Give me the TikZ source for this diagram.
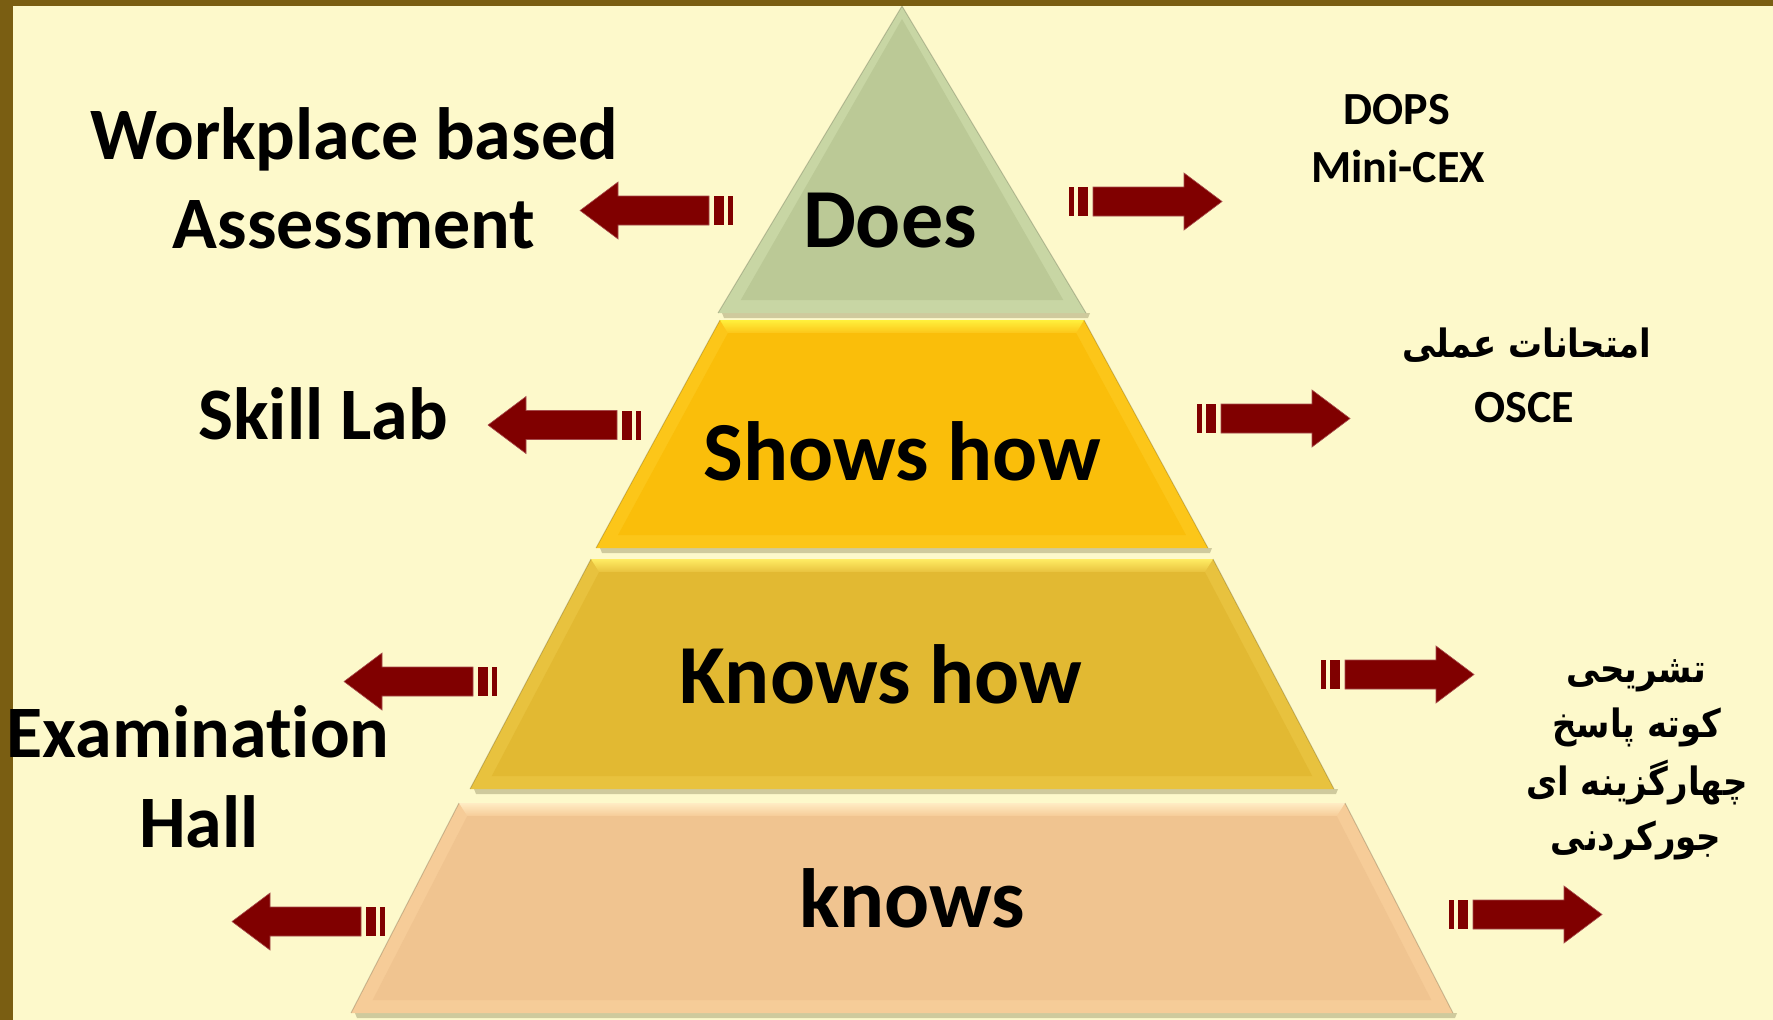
\documentclass[tikz,border=0pt]{standalone}
\usepackage{fontspec}
\setmainfont{Carlito}[Ligatures=NoCommon]
\newfontfamily\arabicfont[Script=Arabic,FakeStretch=0.87]{DejaVu Sans}
\TeXXeTstate=1
\definecolor{bgcol}{RGB}{253,249,203}
\definecolor{framecol}{RGB}{122,94,18}
\definecolor{arrowcol}{RGB}{128,0,0}
\definecolor{doesbase}{RGB}{187,201,150}
\definecolor{doesfacet}{RGB}{200,214,164}
\definecolor{doestop}{RGB}{210,222,175}
\definecolor{showsbase}{RGB}{250,190,10}
\definecolor{showsfacet}{RGB}{252,198,25}
\definecolor{showstop}{RGB}{255,240,60}
\definecolor{khbase}{RGB}{226,185,50}
\definecolor{khfacet}{RGB}{232,194,62}
\definecolor{khtop}{RGB}{255,236,100}
\definecolor{kbase}{RGB}{240,196,144}
\definecolor{kfacet}{RGB}{246,204,152}
\definecolor{ktop}{RGB}{255,236,196}
\definecolor{shadowcol}{RGB}{170,165,120}
\tikzset{
  lefttext/.style={anchor=base, inner sep=0pt, font=\bfseries\fontsize{74}{88}\selectfont},
  layertext/.style={anchor=base, inner sep=0pt, font=\bfseries\fontsize{84}{100}\selectfont},
  righttext/.style={anchor=base, inner sep=0pt, font=\bfseries\fontsize{46}{56}\selectfont},
  fatext/.style={anchor=base, inner sep=0pt, font=\arabicfont\bfseries\fontsize{39}{50}\selectfont},
  arrowfill/.style={fill=arrowcol, draw=arrowcol!70!white, line width=0.6pt}
}
% layer: #1 top y, #2 bottom y, #3 top half width, #4 bottom half width, #5 base, #6 facet, #7 top colour
\newcommand\pyrlayer[7]{%
  \pgfmathsetmacro\pyS{(#4-#3)/(#2-#1)}%
  \pgfmathsetmacro\pyIns{13}%
  \pgfmathsetmacro\pyITy{#1+\pyIns}%
  \pgfmathsetmacro\pyIBy{#2-\pyIns}%
  \pgfmathsetmacro\pyITw{max(0,#3+\pyS*\pyIns-\pyIns*1.15)}%
  \pgfmathsetmacro\pyIBw{#4-\pyS*\pyIns-\pyIns*1.15}%
  \fill[shadowcol, opacity=0.55] (902-#4+4,#2) -- (902+#4+4,#2) -- (902+#4+2,#2+5) -- (902-#4+6,#2+5) -- cycle;
  \fill[#6] (902-#3,#1) -- (902+#3,#1) -- (902+#4,#2) -- (902-#4,#2) -- cycle;
  \shade[top color=#7, bottom color=#6] (902-#3,#1) -- (902+#3,#1) -- (902+\pyITw,\pyITy) -- (902-\pyITw,\pyITy) -- cycle;
  \fill[#5] (902-\pyITw,\pyITy) -- (902+\pyITw,\pyITy) -- (902+\pyIBw,\pyIBy) -- (902-\pyIBw,\pyIBy) -- cycle;
  \draw[black, opacity=0.18, line width=1pt] (902-#3,#1) -- (902-#4,#2) (902+#3,#1) -- (902+#4,#2);
}
% right arrow: tail x, centre y
\newcommand\rarrow[2]{%
  \fill[arrowcol] (#1,#2-14.5) rectangle (#1+5,#2+14.5);
  \fill[arrowcol] (#1+9,#2-14.5) rectangle (#1+19,#2+14.5);
  \path[arrowfill] (#1+24,#2-14.5) -- (#1+115,#2-14.5) -- (#1+115,#2-28.5) -- (#1+153,#2) -- (#1+115,#2+28.5) -- (#1+115,#2+14.5) -- (#1+24,#2+14.5) -- cycle;
}
% left arrow: tail x (right end), centre y
\newcommand\larrow[2]{%
  \fill[arrowcol] (#1,#2-14.5) rectangle (#1-5,#2+14.5);
  \fill[arrowcol] (#1-9,#2-14.5) rectangle (#1-19,#2+14.5);
  \path[arrowfill] (#1-24,#2-14.5) -- (#1-115,#2-14.5) -- (#1-115,#2-28.5) -- (#1-153,#2) -- (#1-115,#2+28.5) -- (#1-115,#2+14.5) -- (#1-24,#2+14.5) -- cycle;
}
\begin{document}
\begin{tikzpicture}[x=1pt,y=-1pt]
\useasboundingbox (0,0) rectangle (1773,1020);
\fill[bgcol] (0,0) rectangle (1773,1020);
\fill[framecol] (0,0) rectangle (1773,6);
\fill[framecol] (0,0) rectangle (13,1020);

% pyramid
\pyrlayer{6}{313}{0}{184}{doesbase}{doesfacet}{doestop}
\pyrlayer{320}{548}{182}{306}{showsbase}{showsfacet}{showstop}
\pyrlayer{559}{789}{311}{432}{khbase}{khfacet}{khtop}
\pyrlayer{803}{1013}{443}{551}{kbase}{kfacet}{ktop}

\node[layertext] (does) at (890,247) {Does};
\node[layertext] (shows) at (902,480) {Shows how};
\node[layertext] (knowshow) at (881,703) {Knows how};
\node[layertext] (knows) at (912,927) {knows};

% arrows
\larrow{733}{210.5}
\larrow{641}{425}
\larrow{497}{681.5}
\larrow{385}{921.5}
\rarrow{1069}{201.5}
\rarrow{1197}{418.5}
\rarrow{1321}{674.5}
\rarrow{1449}{914.5}

% left texts
\node[lefttext] (wpa1) at (354,159) {Workplace based};
\node[lefttext] (wpa2) at (354,248) {Assessment};
\node[lefttext] (skill) at (323,439) {Skill Lab};
\node[lefttext] (exam1) at (198,757) {Examination};
\node[lefttext] (exam2) at (199,847) {Hall};

% right texts
\node[righttext] (dops) at (1397,124) {DOPS};
\node[righttext] (minicex) at (1398,182) {Mini-CEX};
\node[fatext] (practical) at (1527,357) {\beginR امتحانات عملی\endR};
\node[righttext] (osce) at (1524,422) {OSCE};
\node[fatext] (fa1) at (1636,682) {\beginR تشریحی\endR};
\node[fatext] (fa2) at (1637,737) {\beginR کوته پاسخ\endR};
\node[fatext] (fa3) at (1637,795) {\beginR چهارگزینه ای\endR};
\node[fatext] (fa4) at (1636,850) {\beginR جورکردنی\endR};
\end{tikzpicture}
\end{document}
